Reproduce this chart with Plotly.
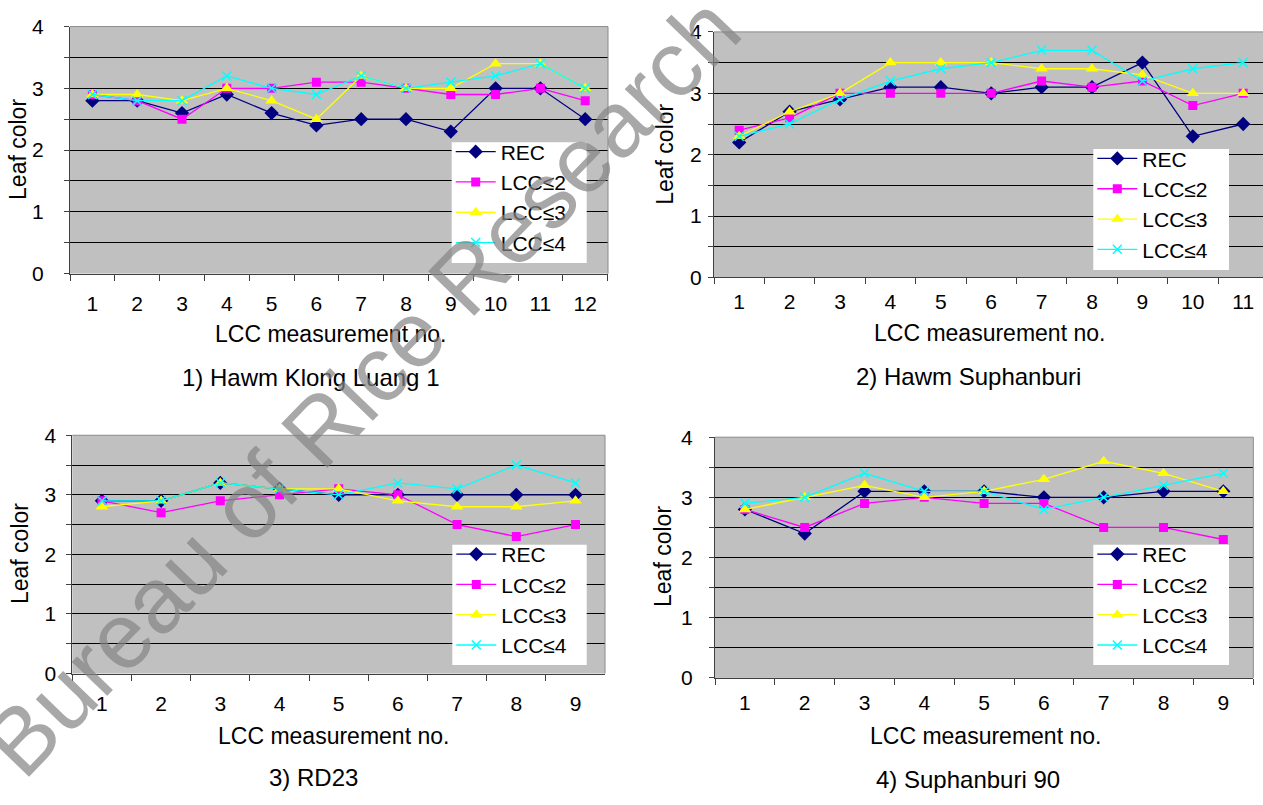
import plotly.graph_objects as go

W, H = 1263, 805

series_names = ["REC", "LCC≤2", "LCC≤3", "LCC≤4"]

# Panel 1: Hawm Klong Luang 1
p1_cats = [str(i) for i in range(1, 13)]
p1_rec = [2.8, 2.8, 2.6, 2.9, 2.6, 2.4, 2.5, 2.5, 2.3, 3.0, 3.0, 2.5]
p1_l2 = [2.9, 2.8, 2.5, 3.0, 3.0, 3.1, 3.1, 3.0, 2.9, 2.9, 3.0, 2.8]
p1_l3 = [2.9, 2.9, 2.8, 3.0, 2.8, 2.5, 3.2, 3.0, 3.0, 3.4, 3.4, 3.0]
p1_l4 = [2.9, 2.8, 2.8, 3.2, 3.0, 2.9, 3.2, 3.0, 3.1, 3.2, 3.4, 3.0]

# Panel 2: Hawm Suphanburi
p2_cats = [str(i) for i in range(1, 12)]
p2_rec = [2.2, 2.7, 2.9, 3.1, 3.1, 3.0, 3.1, 3.1, 3.5, 2.3, 2.5]
p2_l2 = [2.4, 2.6, 3.0, 3.0, 3.0, 3.0, 3.2, 3.1, 3.2, 2.8, 3.0]
p2_l3 = [2.3, 2.7, 3.0, 3.5, 3.5, 3.5, 3.4, 3.4, 3.3, 3.0, 3.0]
p2_l4 = [2.3, 2.5, 2.9, 3.2, 3.4, 3.5, 3.7, 3.7, 3.2, 3.4, 3.5]

# Panel 3: RD23
p3_cats = [str(i) for i in range(1, 10)]
p3_rec = [2.9, 2.9, 3.2, 3.1, 3.0, 3.0, 3.0, 3.0, 3.0]
p3_l2 = [2.9, 2.7, 2.9, 3.0, 3.1, 3.0, 2.5, 2.3, 2.5]
p3_l3 = [2.8, 2.9, 3.2, 3.1, 3.1, 2.9, 2.8, 2.8, 2.9]
p3_l4 = [2.9, 2.9, 3.2, 3.1, 3.0, 3.2, 3.1, 3.5, 3.2]

# Panel 4: Suphanburi 90
p4_cats = [str(i) for i in range(1, 10)]
p4_rec = [2.8, 2.4, 3.1, 3.1, 3.1, 3.0, 3.0, 3.1, 3.1]
p4_l2 = [2.8, 2.5, 2.9, 3.0, 2.9, 2.9, 2.5, 2.5, 2.3]
p4_l3 = [2.8, 3.0, 3.2, 3.0, 3.1, 3.3, 3.6, 3.4, 3.1]
p4_l4 = [2.9, 3.0, 3.4, 3.1, 3.1, 2.8, 3.0, 3.2, 3.4]

panel_titles = ["1) Hawm Klong Luang 1", "2) Hawm Suphanburi", "3) RD23", "4) Suphanburi 90"]
x_title = "LCC measurement no."
y_title = "Leaf color"
y_tickvals = [0, 0.5, 1, 1.5, 2, 2.5, 3, 3.5, 4]
y_ticktext = ["0", "", "1", "", "2", "", "3", "", "4"]
watermark = "Bureau of Rice Research"

panels = [
    dict(cats=p1_cats, data=[p1_rec, p1_l2, p1_l3, p1_l4],
         box=(70, 15, 608, 269.3), cat_w=44.8, ystand=16, xstand=11, rborder=True,
         legbox=(451.7, 134, 586.7, 258.3), xt=(330, 331.7), tt=(310, 376.7), yt=(18, 142)),
    dict(cats=p2_cats, data=[p2_rec, p2_l2, p2_l3, p2_l4],
         box=(714, 20.5, 1263, 273.3), cat_w=50.4, ystand=2, xstand=5, rborder=False,
         legbox=(1093.3, 141, 1229, 265.7), xt=(989, 330), tt=(968, 375), yt=(665, 147)),
    dict(cats=p3_cats, data=[p3_rec, p3_l2, p3_l3, p3_l4],
         box=(72.3, 435.7, 605, 681), cat_w=59.2, ystand=6, xstand=11, rborder=True,
         legbox=(452.3, 548.3, 586.7, 672.3), xt=(333, 745), tt=(313.5, 788), yt=(20, 558)),
    dict(cats=p4_cats, data=[p4_rec, p4_l2, p4_l3, p4_l4],
         box=(715, 437.7, 1253.3, 685.5), cat_w=59.8, ystand=12, xstand=6, rborder=True,
         legbox=(1093.3, 548.3, 1229, 672.3), xt=(985, 745), tt=(968, 790), yt=(663, 561)),
]

styles = [
    dict(color="#000080", symbol="diamond", size=11, lw=1.3),
    dict(color="#FF00FF", symbol="square", size=9, lw=1.3),
    dict(color="#FFFF00", symbol="triangle-up", size=11, lw=1.3),
    dict(color="#00FFFF", symbol="x-thin", size=9, lw=1.3),
]

FONT = "Liberation Sans, Arial, sans-serif"

fig = go.Figure()
layout = dict(
    width=W, height=H, autosize=False,
    margin=dict(l=0, r=0, t=0, b=0),
    paper_bgcolor="white", plot_bgcolor="#C0C0C0",
    font=dict(family=FONT, size=21, color="black"),
    showlegend=True,
)
annotations = []
shapes = []

def px(x):
    return x / W

def py(y):
    return 1 - y / H

for i, p in enumerate(panels, start=1):
    sfx = "" if i == 1 else str(i)
    x0, y0, x1, y1 = p["box"]
    span = (x1 - x0) / p["cat_w"]
    leg = "legend" if i == 1 else f"legend{i}"
    for k, (name, vals) in enumerate(zip(series_names, p["data"])):
        st = styles[k]
        marker = dict(color=st["color"], symbol=st["symbol"], size=st["size"])
        if st["symbol"] == "x-thin":
            marker["line"] = dict(color=st["color"], width=1.5)
        fig.add_trace(go.Scatter(
            x=p["cats"], y=vals, name=name, mode="lines+markers",
            line=dict(color=st["color"], width=st["lw"]),
            marker=marker,
            xaxis="x" + sfx, yaxis="y" + sfx,
            legend=leg,
        ))
    layout["xaxis" + sfx] = dict(
        domain=[px(x0), px(x1)], anchor="y" + sfx, type="category",
        range=[-0.5, -0.5 + span], tickson="boundaries",
        ticks="outside", ticklen=6, tickcolor="#404040", tickwidth=1,
        showline=True, linecolor="#404040", linewidth=1,
        showgrid=False, zeroline=False,
        tickfont=dict(size=21), ticklabelstandoff=p["xstand"],
        fixedrange=True,
    )
    layout["yaxis" + sfx] = dict(
        domain=[py(y1), py(y0)], anchor="x" + sfx,
        range=[0, 4], tickvals=y_tickvals, ticktext=y_ticktext,
        ticks="outside", ticklen=5, tickcolor="#404040", tickwidth=1,
        showline=True, linecolor="#404040", linewidth=1,
        showgrid=True, gridcolor="black", gridwidth=1, zeroline=False,
        tickfont=dict(size=21), ticklabelstandoff=p["ystand"],
        fixedrange=True,
    )
    bx0, by0, bx1, by1 = p["legbox"]
    # opaque white legend box that hides the lines behind it
    shapes.append(dict(type="rect", xref="paper", yref="paper", layer="above",
                       x0=px(bx0), x1=px(bx1), y0=py(by1), y1=py(by0),
                       fillcolor="white", line=dict(width=0)))
    layout[leg] = dict(
        x=px(bx0 - 1), y=py(by0 - 11), xanchor="left", yanchor="top",
        bgcolor="rgba(0,0,0,0)", borderwidth=0, font=dict(size=21),
        tracegroupgap=0, itemwidth=40,
    )
    # plot area border (top / right)
    shapes.append(dict(type="line", xref="paper", yref="paper",
                       x0=px(x0), x1=px(x1), y0=py(y0), y1=py(y0),
                       line=dict(color="#8a8a8a", width=1)))
    if p["rborder"]:
        shapes.append(dict(type="line", xref="paper", yref="paper",
                           x0=px(x1), x1=px(x1), y0=py(y0), y1=py(y1),
                           line=dict(color="#8a8a8a", width=1)))
    annotations.append(dict(text=x_title, x=px(p["xt"][0]), y=py(p["xt"][1]),
                            xref="paper", yref="paper", showarrow=False,
                            xanchor="center", yanchor="middle", font=dict(size=23)))
    annotations.append(dict(text=panel_titles[i - 1], x=px(p["tt"][0]), y=py(p["tt"][1]),
                            xref="paper", yref="paper", showarrow=False,
                            xanchor="center", yanchor="middle", font=dict(size=24)))
    annotations.append(dict(text=y_title, x=px(p["yt"][0]), y=py(p["yt"][1]),
                            xref="paper", yref="paper", showarrow=False, textangle=-90,
                            xanchor="center", yanchor="middle", font=dict(size=23)))

annotations.append(dict(text=watermark, x=px(362), y=py(385), xref="paper", yref="paper",
                        showarrow=False, textangle=-46, xanchor="center", yanchor="middle",
                        font=dict(size=93, color="rgba(133,133,133,0.71)", family=FONT)))

layout["annotations"] = annotations
layout["shapes"] = shapes
fig.update_layout(**layout)
fig.write_html("out.html")
